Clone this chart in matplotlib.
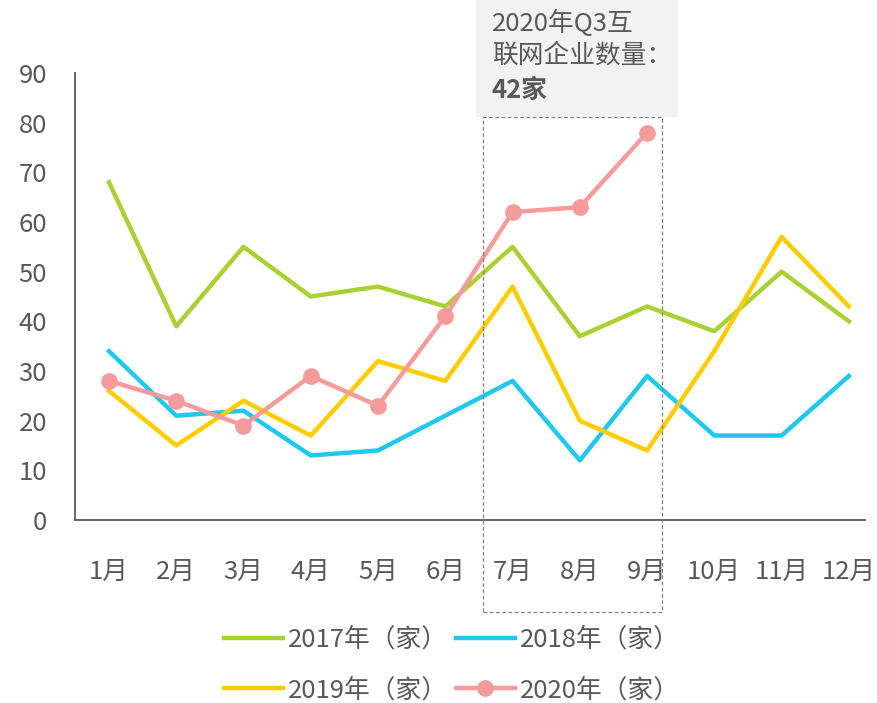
import matplotlib.pyplot as plt
from matplotlib.patches import Rectangle

plt.rcParams['font.family'] = ['Noto Sans CJK SC', 'DejaVu Sans']

months = ['1月', '2月', '3月', '4月', '5月', '6月', '7月', '8月', '9月', '10月', '11月', '12月']
v2017 = [68, 39, 55, 45, 47, 43, 55, 37, 43, 38, 50, 40]
v2018 = [34, 21, 22, 13, 14, 21, 28, 12, 29, 17, 17, 29]
v2019 = [26, 15, 24, 17, 32, 28, 47, 20, 14, 34, 57, 43]
v2020 = [28, 24, 19, 29, 23, 41, 62, 63, 78]
labels = ['2017年（家）', '2018年（家）', '2019年（家）', '2020年（家）']
note = '2020年Q3互\n联网企业数量：'
note_bold = '42家'

W, H = 877, 703
fig = plt.figure(figsize=(W / 100, H / 100), dpi=100)
ax = fig.add_axes([75 / W, 1 - 520 / H, (865 - 75) / W, (520 - 73) / H])

x = list(range(1, 13))
tc = '#595959'
l1, = ax.plot(x, v2017, color='#A9D134', lw=3.2, label=labels[0])
l2, = ax.plot(x, v2018, color='#1EC8EE', lw=3.2, label=labels[1])
l3, = ax.plot(x, v2019, color='#FFCC00', lw=3.2, label=labels[2])
l4, = ax.plot(x[:len(v2020)], v2020, color='#F59B9B', lw=3.2, marker='o', ms=11, label=labels[3])

ax.set_xlim(0.495, 12.24)
ax.set_ylim(0, 90)
ax.set_yticks(range(0, 91, 10))
ax.set_xticks(x)
ax.set_xticklabels(months)
ax.tick_params(length=0, labelsize=18.5, colors=tc)
ax.tick_params(axis='x', pad=28)
ax.tick_params(axis='y', pad=20)
for s in ['top', 'right']:
    ax.spines[s].set_visible(False)
for s in ['left', 'bottom']:
    ax.spines[s].set_color(tc)
    ax.spines[s].set_linewidth(1.3)

# dashed box around Q3
fig.patches.append(Rectangle((483 / W, 1 - 612 / H), (662 - 483) / W, (612 - 117) / H,
                             transform=fig.transFigure, fill=False, ls=(0, (3, 2)),
                             ec='#808080', lw=0.9))
# annotation box
fig.patches.append(Rectangle((476 / W, 1 - 117 / H), (678 - 476) / W, 117 / H,
                             transform=fig.transFigure, fc='#F2F2F2', ec='none'))
fig.text(492 / W, 1 - 10 / H, note, fontsize=18.5, color=tc, va='top', ha='left', linespacing=1.3)
fig.text(492 / W, 1 - 77 / H, note_bold, fontsize=18.5, color=tc, va='top', ha='left',
         fontweight='bold')

leg = fig.legend([l1, l3, l2, l4], [labels[0], labels[2], labels[1], labels[3]],
                 loc='center', bbox_to_anchor=(452 / W, 1 - 665 / H), ncol=2, frameon=False,
                 fontsize=18.5, handlelength=2.3, columnspacing=0.3, handletextpad=0.2,
                 labelspacing=0.95)
for t in leg.get_texts():
    t.set_color(tc)

fig.savefig('out.png', dpi=100)
